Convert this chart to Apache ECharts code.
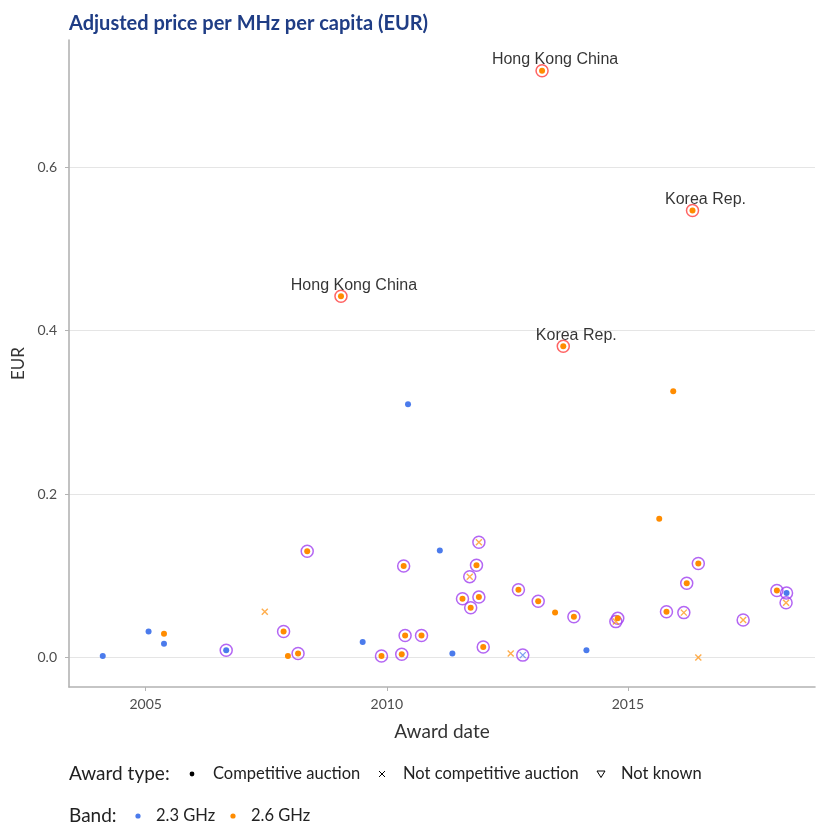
<!DOCTYPE html>
<html>
<head>
<meta charset="utf-8">
<script src="https://cdn.jsdelivr.net/npm/echarts@6/dist/echarts.min.js"></script>
<style>
  html, body { margin: 0; padding: 0; background: #fff; }
  #chart { width: 816px; height: 825px; }
</style>
</head>
<body>
<div id="chart"></div>
<script>
// Award date (decimal year), adjusted price per MHz per capita (EUR),
// and whether the award is circled (1) — split by band and award type.

// 2.3 GHz, competitive auction
const b23AuctionDate   = [2004.11, 2005.06, 2005.38, 2006.67, 2009.50, 2010.44, 2011.10, 2011.36, 2014.14, 2018.29];
const b23AuctionPrice  = [0.002,   0.032,   0.017,   0.009,   0.019,   0.310,   0.131,   0.005,   0.009,   0.079];
const b23AuctionCircle = [0,       0,       0,       1,       0,       0,       0,       0,       0,       1];

// 2.3 GHz, not competitive auction
const b23OtherDate   = [2012.82];
const b23OtherPrice  = [0.003];
const b23OtherCircle = [1];

// 2.6 GHz, competitive auction (named markets are annotated)
const b26AuctionDate   = [2005.38, 2007.86, 2007.95, 2008.16, 2008.35, 2009.05, 2009.89, 2010.31, 2010.35, 2010.38,
                          2010.72, 2011.57, 2011.74, 2011.86, 2011.91, 2012.00, 2012.73, 2013.14, 2013.22, 2013.49,
                          2013.66, 2013.88, 2014.79, 2015.65, 2015.80, 2015.94, 2016.22, 2016.34, 2016.46, 2018.09];
const b26AuctionPrice  = [0.029,   0.032,   0.002,   0.005,   0.130,   0.442,   0.002,   0.004,   0.112,   0.027,
                          0.027,   0.072,   0.061,   0.113,   0.074,   0.013,   0.083,   0.069,   0.718,   0.055,
                          0.381,   0.050,   0.048,   0.170,   0.056,   0.326,   0.091,   0.547,   0.115,   0.082];
const b26AuctionCircle = [0,       1,       0,       1,       1,       0,       1,       1,       1,       1,
                          1,       1,       1,       1,       1,       1,       1,       1,       0,       0,
                          0,       1,       1,       0,       1,       0,       1,       0,       1,       1];
const b26AuctionMarket = ['', '', '', '', '', 'Hong Kong China', '', '', '', '',
                          '', '', '', '', '', '', '', '', 'Hong Kong China', '',
                          'Korea Rep.', '', '', '', '', '', '', 'Korea Rep.', '', ''];

// 2.6 GHz, not competitive auction
const b26OtherDate   = [2007.47, 2011.72, 2011.91, 2012.57, 2014.75, 2016.16, 2016.46, 2017.39, 2018.28];
const b26OtherPrice  = [0.056,   0.099,   0.141,   0.005,   0.044,   0.055,   0.000,   0.046,   0.067];
const b26OtherCircle = [0,       1,       1,       0,       1,       1,       0,       1,       1];

// Axis ticks
const xTicks = [2005, 2010, 2015];
const yTicks = [0, 0.2, 0.4, 0.6];

// Legend entries
const awardTypes = ['Competitive auction', 'Not competitive auction', 'Not known'];
const bands = ['2.3 GHz', '2.6 GHz'];

const BLUE = '#4B7BEC';
const ORANGE = '#FF8C00';
const PURPLE = '#A040F0';
const RED = '#FF3C3C';
const CROSS = 'path://M0,0L10,10M10,0L0,10';
const UI_FONT = 'Lato';

const pairs = (d, p) => d.map((x, i) => [x, p[i]]);
const pick = (d, p, flags) => d.map((x, i) => [x, p[i]]).filter((_, i) => flags[i]);

const circled = []
  .concat(pick(b23AuctionDate, b23AuctionPrice, b23AuctionCircle))
  .concat(pick(b23OtherDate, b23OtherPrice, b23OtherCircle))
  .concat(pick(b26AuctionDate, b26AuctionPrice, b26AuctionCircle))
  .concat(pick(b26OtherDate, b26OtherPrice, b26OtherCircle));

const named = b26AuctionDate
  .map((x, i) => ({ value: [x, b26AuctionPrice[i]], market: b26AuctionMarket[i] }))
  .filter(o => o.market !== '');

const dotSeries = (name, data, color) => ({
  name, type: 'scatter', data, symbol: 'circle', symbolSize: 6,
  itemStyle: { color, opacity: 1 }, z: 4, silent: true
});
const crossSeries = (name, data, color) => ({
  name, type: 'scatter', data, symbol: CROSS, symbolSize: 6,
  itemStyle: { color: 'none', borderColor: color, borderWidth: 1.4, opacity: 0.7 }, z: 4, silent: true
});

// Legend drawn as graphic elements: key swatches followed by their text
const legendText = (text, x, y, size) => ({
  type: 'text', x, y,
  style: { text, fontFamily: UI_FONT, fontSize: size, fill: '#222', verticalAlign: 'middle', align: 'left' }
});
const ROW1 = 774, ROW2 = 816;
const legendGraphics = [
  legendText('Award type:', 69, ROW1, 19),
  { type: 'circle', shape: { cx: 192, cy: ROW1, r: 2.4 }, style: { fill: '#000' } },
  legendText(awardTypes[0], 213, ROW1, 16.5),
  { type: 'polyline', shape: { points: [[379, ROW1 - 3], [385, ROW1 + 3]] }, style: { stroke: '#000', lineWidth: 1 } },
  { type: 'polyline', shape: { points: [[385, ROW1 - 3], [379, ROW1 + 3]] }, style: { stroke: '#000', lineWidth: 1 } },
  legendText(awardTypes[1], 403, ROW1, 16.5),
  { type: 'polygon', shape: { points: [[597, ROW1 - 3], [605, ROW1 - 3], [601, ROW1 + 3.5]] },
    style: { fill: 'none', stroke: '#000', lineWidth: 1 } },
  legendText(awardTypes[2], 621, ROW1, 16.5),
  legendText('Band:', 69, ROW2, 19),
  { type: 'circle', shape: { cx: 138, cy: ROW2, r: 2.6 }, style: { fill: BLUE } },
  legendText(bands[0], 156, ROW2, 16.5),
  { type: 'circle', shape: { cx: 233, cy: ROW2, r: 2.6 }, style: { fill: ORANGE } },
  legendText(bands[1], 251, ROW2, 16.5)
];

const chart = echarts.init(document.getElementById('chart'), null, { renderer: 'canvas' });

chart.setOption({
  animation: false,
  backgroundColor: '#fff',
  title: {
    text: 'Adjusted price per MHz per capita (EUR)',
    left: 64, top: 9,
    textStyle: { fontFamily: UI_FONT, fontWeight: 'bold', fontSize: 20, color: '#1F3D85' }
  },
  grid: { left: 69, right: 1, top: 40, bottom: 138, containLabel: false },
  xAxis: {
    type: 'value', min: 2003.41, max: 2018.88,
    name: 'Award date', nameLocation: 'middle', nameGap: 35,
    nameTextStyle: { fontFamily: UI_FONT, fontSize: 19, color: '#333' },
    axisLine: { onZero: false, lineStyle: { color: '#B3B3B3', width: 1.6 } },
    axisTick: { customValues: xTicks, length: 4, lineStyle: { color: '#B3B3B3', width: 1 } },
    axisLabel: { customValues: xTicks, margin: 10, fontFamily: UI_FONT, fontSize: 14, color: '#4D4D4D',
                 formatter: v => String(v) },
    splitLine: { show: false }
  },
  yAxis: {
    type: 'value', min: -0.036, max: 0.7556,
    name: 'EUR', nameLocation: 'middle', nameGap: 40,
    nameTextStyle: { fontFamily: UI_FONT, fontSize: 17, color: '#333' },
    axisLine: { show: true, onZero: false, lineStyle: { color: '#B3B3B3', width: 1.6 } },
    axisTick: { show: true, customValues: yTicks, length: 4, lineStyle: { color: '#B3B3B3', width: 1 } },
    axisLabel: { customValues: yTicks, margin: 12, fontFamily: UI_FONT, fontSize: 14, color: '#4D4D4D',
                 formatter: v => v.toFixed(1) },
    splitLine: { show: true, lineStyle: { color: '#E5E5E5', width: 1 } }
  },
  graphic: legendGraphics,
  series: [
    // circled awards
    { name: 'circled', type: 'scatter', data: circled, symbol: 'circle', symbolSize: 12,
      itemStyle: { color: 'transparent', borderColor: PURPLE, borderWidth: 1.5 }, z: 3, silent: true },
    // annotated markets
    { name: 'named', type: 'scatter', data: named, symbol: 'circle', symbolSize: 12,
      itemStyle: { color: 'transparent', borderColor: RED, borderWidth: 1.5 }, z: 3, silent: true,
      label: { show: true, position: 'inside', offset: [13, -11],
               formatter: p => p.data.market,
               fontFamily: 'Liberation Sans', fontSize: 16, color: '#000' } },
    dotSeries('2.3 GHz auction', pairs(b23AuctionDate, b23AuctionPrice), BLUE),
    dotSeries('2.6 GHz auction', pairs(b26AuctionDate, b26AuctionPrice), ORANGE),
    crossSeries('2.3 GHz other', pairs(b23OtherDate, b23OtherPrice), BLUE),
    crossSeries('2.6 GHz other', pairs(b26OtherDate, b26OtherPrice), ORANGE)
  ]
});
</script>
</body>
</html>
